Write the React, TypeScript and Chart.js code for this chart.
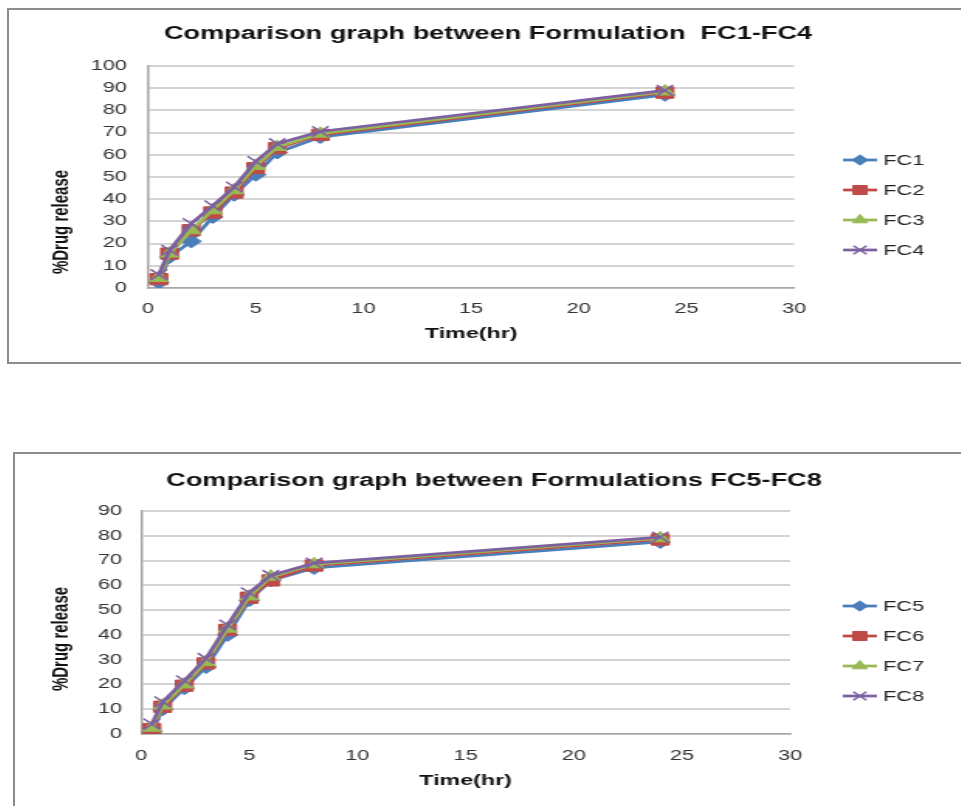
import React, { useEffect, useRef } from "react";
import { Chart, registerables } from "chart.js";
import { drawPoint } from "chart.js/helpers";

Chart.register(...registerables);

// ---- Data ----
const timeHr = [0.5, 1, 2, 3, 4, 5, 6, 8, 24];

const fc1 = [2.5, 14, 21, 32, 42, 51, 61, 68, 87];
const fc2 = [4, 15.5, 26, 34, 43, 54, 63, 69, 88];
const fc3 = [4.5, 15.5, 26, 35, 44, 55, 63.5, 69.5, 88.5];
const fc4 = [6, 17, 29, 37, 45.5, 57, 65, 70.5, 89];

const fc5 = [1, 10, 18.5, 27, 40, 54, 62, 67, 77.5];
const fc6 = [2, 11, 19.5, 28.5, 42, 55, 62, 68, 78.5];
const fc7 = [2.5, 11.5, 20, 29, 42.5, 55.5, 63.5, 68.5, 79];
const fc8 = [4, 13, 21.5, 30.5, 44, 57, 64, 69, 79.5];

const namesTop = ["FC1", "FC2", "FC3", "FC4"];
const namesBottom = ["FC5", "FC6", "FC7", "FC8"];

const titleTop = "Comparison graph between Formulation  FC1-FC4";
const titleBottom = "Comparison graph between Formulations FC5-FC8";
const xAxisTitle = "Time(hr)";
const yAxisTitle = "%Drug release";

// ---- Styles ----
const colors = ["#4a7ebb", "#be4b48", "#98b954", "#7d60a0"];
const markers = ["rectRot", "rect", "triangle", "crossRot"];
const radii = [6.5, 8, 7, 7.5];

const STRETCH = 1.55;
const FONT = "'Liberation Sans', Arial, sans-serif";

const decorPlugin = {
  id: "decor",
  afterDraw(chart: any) {
    const cfg = chart.options.plugins.decor;
    if (!cfg) return;
    const ctx = chart.ctx;
    ctx.save();
    // y axis title
    ctx.translate(cfg.yTitle.x, cfg.yTitle.y);
    ctx.rotate(-Math.PI / 2);
    ctx.font = `bold 15px ${FONT}`;
    ctx.fillStyle = "#111";
    ctx.textAlign = "center";
    ctx.textBaseline = "middle";
    ctx.fillText(cfg.yTitle.text, 0, 0);
    ctx.restore();

    // legend
    chart.data.datasets.forEach((ds: any, i: number) => {
      const y = cfg.legend.ys[i];
      ctx.save();
      ctx.strokeStyle = ds.borderColor;
      ctx.lineWidth = ds.borderWidth;
      ctx.beginPath();
      ctx.moveTo(cfg.legend.x0, y);
      ctx.lineTo(cfg.legend.x1, y);
      ctx.stroke();
      ctx.fillStyle = ds.pointBackgroundColor;
      ctx.strokeStyle = ds.pointBorderColor;
      ctx.lineWidth = ds.pointBorderWidth;
      drawPoint(
        ctx,
        {
          pointStyle: ds.pointStyle,
          radius: ds.pointRadius * 0.8,
          rotation: 0,
          borderWidth: ds.pointBorderWidth,
        } as any,
        (cfg.legend.x0 + cfg.legend.x1) / 2,
        y
      );
      ctx.fillStyle = "#222";
      ctx.font = `14px ${FONT}`;
      ctx.textAlign = "left";
      ctx.textBaseline = "middle";
      ctx.fillText(ds.label, cfg.legend.tx, y + 1);
      ctx.restore();
    });
  },
};

type Layout = {
  canvasW: number;
  canvasH: number;
  yMax: number;
  titleSize: number;
  titlePad: { top: number; bottom: number };
  yAxisWidth: number;
  rightReserve: number;
  xAxisHeight: number;
  xTickPad: number;
  xTitlePadBottom: number;
  yTickPad: number;
  yTitle: { x: number; y: number };
  legend: { x0: number; x1: number; tx: number; ys: number[] };
};

function ChartBox(props: {
  title: string;
  names: string[];
  series: number[][];
  layout: Layout;
  boxStyle: React.CSSProperties;
}) {
  const ref = useRef<HTMLCanvasElement | null>(null);
  const { title, names, series, layout } = props;

  useEffect(() => {
    if (!ref.current) return;
    const datasets = series.map((vals, i) => ({
      label: names[i],
      data: timeHr.map((t, j) => ({ x: t, y: vals[j] })),
      borderColor: colors[i],
      backgroundColor: colors[i],
      borderWidth: 2.75,
      pointStyle: markers[i],
      pointRadius: radii[i],
      pointBackgroundColor: colors[i],
      pointBorderColor: colors[i],
      pointBorderWidth: i === 3 ? 1.5 : 1,
      tension: 0,
      order: series.length - 1 - i,
    }));
    const chart = new Chart(ref.current, {
      type: "line",
      data: { datasets },
      plugins: [decorPlugin],
      options: {
        animation: false,
        responsive: false,
        devicePixelRatio: 1,
        layout: { padding: 0 },
        plugins: {
          legend: { display: false },
          tooltip: { enabled: false },
          title: {
            display: true,
            text: title,
            color: "#111",
            font: { family: FONT, size: layout.titleSize, weight: "bold" },
            padding: layout.titlePad,
          },
          decor: {
            yTitle: { ...layout.yTitle, text: yAxisTitle },
            legend: layout.legend,
          },
        } as any,
        scales: {
          x: {
            type: "linear",
            min: 0,
            max: 30,
            ticks: {
              stepSize: 5,
              padding: layout.xTickPad,
              color: "#333",
              font: { family: FONT, size: 14 },
            },
            grid: { display: false, drawTicks: false },
            border: { display: true, color: "#a6a6a6", width: 1.5 },
            title: {
              display: true,
              text: xAxisTitle,
              color: "#111",
              font: { family: FONT, size: 15, weight: "bold" },
              padding: { top: 0, bottom: layout.xTitlePadBottom },
            },
            afterFit: (s: any) => {
              s.height = layout.xAxisHeight;
            },
          },
          y: {
            type: "linear",
            min: 0,
            max: layout.yMax,
            ticks: {
              stepSize: 10,
              padding: layout.yTickPad,
              color: "#333",
              font: { family: FONT, size: 14 },
            },
            grid: { color: "#d4d4d4", lineWidth: 2, drawTicks: false },
            border: { display: true, color: "#a6a6a6", width: 1.5 },
            afterFit: (s: any) => {
              s.width = layout.yAxisWidth;
            },
          },
          y2: {
            type: "linear",
            position: "right",
            display: true,
            ticks: { display: false },
            grid: { display: false, drawTicks: false },
            border: { display: false },
            afterFit: (s: any) => {
              s.width = layout.rightReserve;
            },
          },
        } as any,
      },
    });
    return () => chart.destroy();
  }, []);

  return (
    <div style={props.boxStyle}>
      <canvas
        ref={ref}
        width={layout.canvasW}
        height={layout.canvasH}
        style={{
          display: "block",
          width: `${Math.round(layout.canvasW * STRETCH)}px`,
          height: `${layout.canvasH}px`,
        }}
      />
    </div>
  );
}

const topLayout: Layout = {
  canvasW: 618,
  canvasH: 352,
  yMax: 100,
  titleSize: 17.5,
  titlePad: { top: 14, bottom: 21 },
  yAxisWidth: 89.7,
  rightReserve: 111.5,
  xAxisHeight: 74,
  xTickPad: 13,
  xTitlePadBottom: 19,
  yTickPad: 13.7,
  yTitle: { x: 34.2, y: 212 },
  legend: { x0: 538, x1: 560, tx: 564, ys: [150, 180, 210, 240] },
};

const bottomLayout: Layout = {
  canvasW: 618,
  canvasH: 360,
  yMax: 90,
  titleSize: 17.5,
  titlePad: { top: 16.5, bottom: 19.5 },
  yAxisWidth: 81.3,
  rightReserve: 118,
  xAxisHeight: 80,
  xTickPad: 14,
  xTitlePadBottom: 24,
  yTickPad: 12.3,
  yTitle: { x: 29.5, y: 185 },
  legend: { x0: 534, x1: 556, tx: 560, ys: [152, 182, 212, 242] },
};

export default function App() {
  return (
    <div
      style={{
        position: "fixed",
        left: 0,
        top: 0,
        width: 961,
        height: 806,
        overflow: "hidden",
        background: "#fff",
      }}
    >
      <ChartBox
        title={titleTop}
        names={namesTop}
        series={[fc1, fc2, fc3, fc4]}
        layout={topLayout}
        boxStyle={{
          position: "absolute",
          left: 7,
          top: 8,
          width: 990,
          height: 356,
          boxSizing: "border-box",
          border: "2px solid #8c8c8c",
          background: "#fff",
        }}
      />
      <ChartBox
        title={titleBottom}
        names={namesBottom}
        series={[fc5, fc6, fc7, fc8]}
        layout={bottomLayout}
        boxStyle={{
          position: "absolute",
          left: 13,
          top: 452,
          width: 990,
          height: 400,
          boxSizing: "border-box",
          border: "2px solid #8c8c8c",
          background: "#fff",
        }}
      />
    </div>
  );
}
